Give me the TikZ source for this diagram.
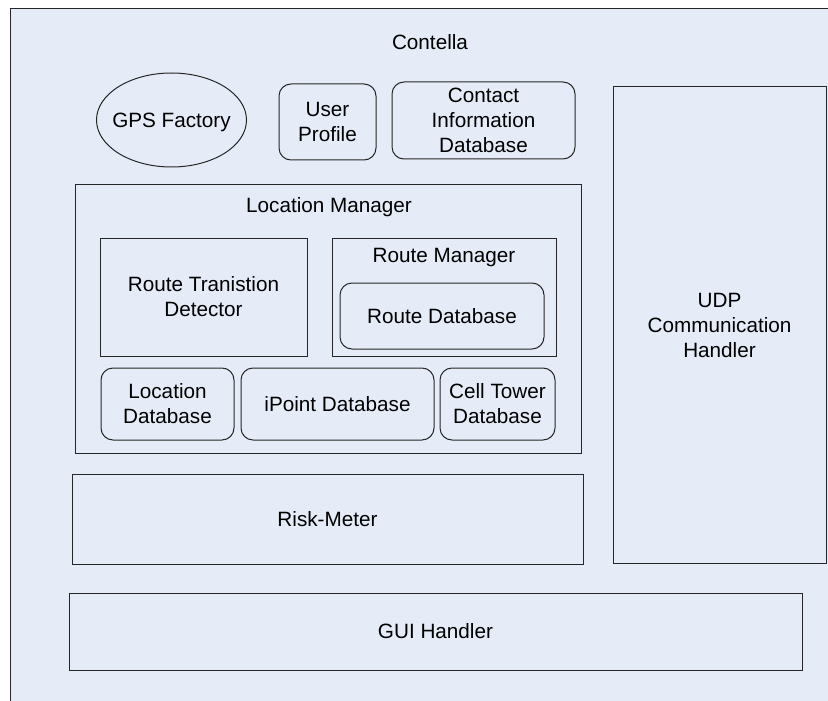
\documentclass[tikz,border=0pt]{standalone}
\usepackage{fontspec}
\setmainfont{Liberation Sans}
\usetikzlibrary{fit, shapes.geometric, shadows}
\definecolor{paneblue}{HTML}{E6ECF7}

\begin{document}
\begin{tikzpicture}[x=0.5pt, y=-0.5pt,
    every node/.style={font=\fontsize{10.35}{12.5}\selectfont, align=center, inner sep=0pt},
    pane/.style={draw=black!85, line width=0.5pt, fill=paneblue,
      drop shadow={shadow xshift=0.6pt, shadow yshift=-0.6pt, fill=black!45, opacity=1}},
    store/.style={draw=black!85, line width=0.5pt, fill=paneblue, rounded corners=6pt},
    caption/.style={label={center:#1}},
  ]
  \useasboundingbox (0,0) rectangle (828,700);
  \fill[white] (0,0) rectangle (828,700);

  % outer frame, runs off the right and bottom edge
  \node[pane, fit={(10,9) (834,706)}] (contella) {};
  \node (contellatitle) at (430,42) {Contella};

  % top row
  \node[draw=black!85, line width=0.5pt, fill=paneblue, ellipse,
    minimum width=75pt, minimum height=47pt] (gps) at (171.5,120) {};
  \node (gpstext) at (171.5,122) {GPS Factory};
  \node[store, fit={(279,84) (376,160)}, caption={User\\Profile}] (profile) {};
  \node[store, fit={(392,82) (575,159)}, caption={Contact\\Information\\Database}] (contact) {};

  \node[pane, fit={(613,87) (826,563)}, caption={UDP\\Communication\\Handler}] (udp) {};

  % location manager and its parts
  \node[pane, fit={(75,185) (581,453)}] (locmgr) {};
  \node (locmgrtitle) at (329,207) {Location Manager};

  \node[pane, fit={(100,238) (307,356)}, caption={Route Tranistion\\Detector}] (detector) {};
  \node[pane, fit={(332,238) (556,356)}] (routemgr) {};
  \node (routemgrtitle) at (444,258) {Route Manager};
  \node[store, fit={(340,283) (544,349)}, caption=Route Database] (routedb) {};

  \node[store, fit={(101,368) (234,440)}, caption={Location\\Database}] (locdb) {};
  \node[store, fit={(241,368) (434,440)}, caption=iPoint Database] (ipointdb) {};
  \node[store, fit={(440,368) (555,440)}, caption={Cell Tower\\Database}] (celldb) {};

  % bottom
  \node[pane, fit={(72,474) (583,564)}, caption=Risk-Meter] (risk) {};
  \node[pane, fit={(69,593) (802,670)}, caption=GUI Handler] (gui) {};
\end{tikzpicture}
\end{document}
